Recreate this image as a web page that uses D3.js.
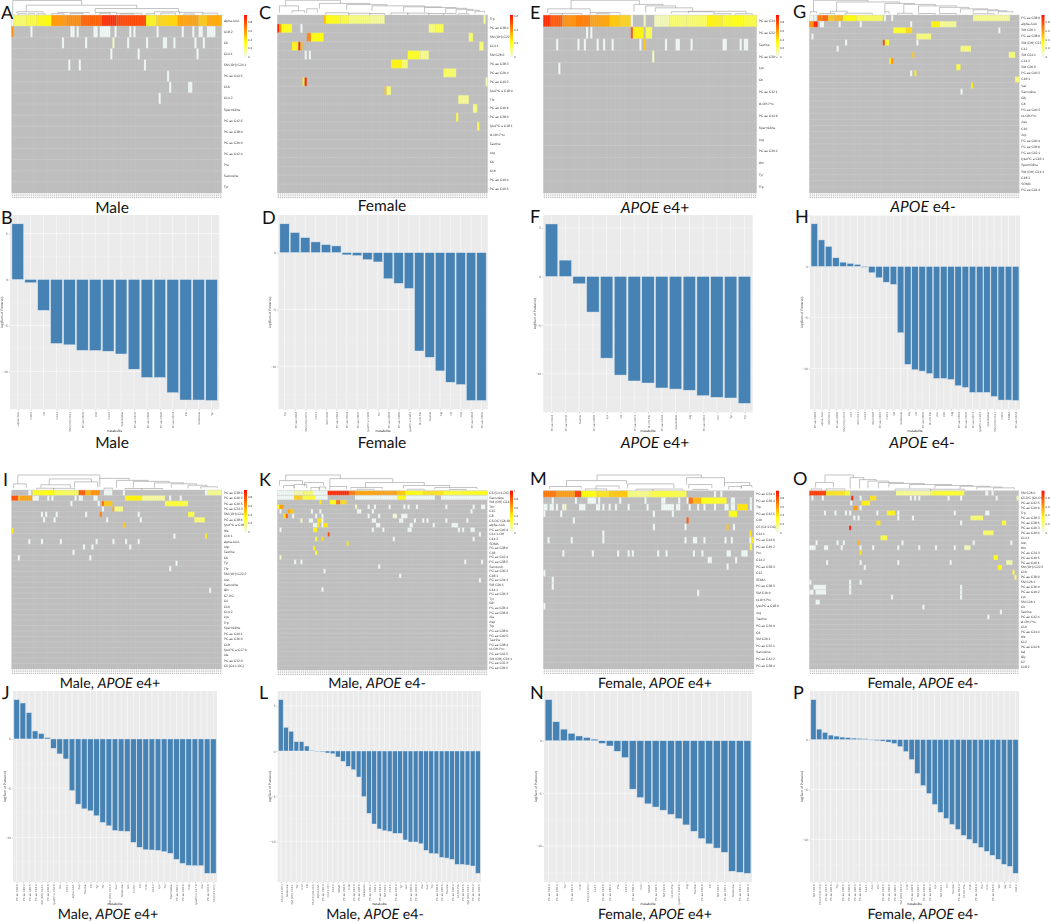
<!DOCTYPE html>
<html><head><meta charset="utf-8">
<style>html,body{margin:0;background:#fff}svg{display:block}text{text-rendering:geometricPrecision}.soft{filter:blur(.32px)}</style>
<script src="https://cdn.jsdelivr.net/npm/d3@7"></script></head><body><svg id="c" width="1050" height="922"></svg>
<script>
// Runs inside a row are [startSample, endSample, probability]; a missing end means one sample, a missing value means 0.
const maleLabels=["alpha-AAA","C18:2","C6","C14:1","SM (OH) C24:1","PC ae C44:5","C16","C14:2","Spermidine","PC ae C42:5","PC ae C38:0","PC ae C36:0","PC ae C42:4","Pro","Sarcosine","Tyr"];
const maleCells=[
[[0],[1,7,.22],[7,12,.3],[12,19,.36],[19,26,.63],[26,33,.66],[33,43,.78],[43,50,.92],[50,64,.85],[64,69,.38],[69,79,.46],[79,89,.6],[89,93,.5],[93,100,.58]],
[[0,1,.65],[9],[28,30],[31],[39,41],[42,47],[49],[56],[58],[69],[81],[86],[89,91],[93,97]],
[[24],[35],[48,49,.08],[55],[64],[72,74],[77],[87],[91]],
[[47],[60],[88]],[[27],[32],[63]],[[74]],[[75],[84,86]],[[70]]];
const maleDend=[[.6,33.4,14.5,0,9.7],[7,59.6,9.7,3,6.3],[39.8,79.4,6.3,2.3,2.7],[2.5,15,3,1.3,1.5],[22,37,2.3,1,1.2],[40,50,2.3,1.2,1.2],[50,62,1.4],[68,80,3,1,1.2],[71,78,1.6],[80,91,2.4,.8,1],[91,98,1.6],[19,25,1],[28,34,1.2],[42,47,1.4],[52,58,.9],[3,7,1],[8,11,1.1],[12,16,.9],[82,87,.8],[64,68,1]];
const maleBars=[6.05,-.35,-3.35,-6.95,-7.1,-7.7,-7.72,-7.8,-8.1,-9.75,-10.65,-10.65,-12.3,-13.1,-13.1,-13.15];

const femaleLabels=["Trp","PC ae C38:4","SM (OH) C22:2","C14:1","SM C26:0","PC ae C38:3","PC ae C36:4","PC ae C40:2","lysoPC a C18:0","Thr","PC ae C40:6","PC ae C38:0","lysoPC a C18:1","t4-OH-Pro","Taurine","Arg","C6","C16","PC ae C40:4","PC ae C40:5"];
const femaleCells=[
[[22,23,.55],[23,30,.35],[30,34,.3],[34,44,.18],[44,51,.15],[98,99,.15]],
[[0,1,.95],[1,2,.6],[2,7,.33],[11],[72,75,.2],[75,79,.25]],
[[14,16,.68],[16,22,.35],[91,93,.22]],
[[7,10,.38],[10,11,.95],[11,12,.55],[96,98,.2]],
[[13],[15],[62,68,.33],[68,72,.18]],
[[54,59,.38],[59,62,.2]],[[79,85,.22]],
[[12,13,.4],[13,14,.95],[99,100,.1]],
[[51,52,.5],[52,54,.2]],[[86,91,.17]],[[93,95,.18]],[[85,86,.3]],[[95,96,.25]]];
const femaleDend=[[4,30,14.7,9,11.5],[1,10,9,2,4],[7,13,4,1.5,2],[14,19,6,1.5,2],[20,44,11.5,6,10.3],[33,52,10.3,5,9],[45,70,9,4,8],[60,78,8,3,7.3],[70,85,7.3,2.5,6.5],[80,90,6.5,2,5.5],[85,93,5.5,2,4.5],[90,96,4.5,1.5,3.5],[94,98.5,3.5,1,2],[23,34,2],[34,44,1.5],[44,51,1.2],[54,62,1.8],[62,72,1.6],[72,79,1.2],[79,85,1.2],[86,91,1]];
const femaleBars=[2.53,1.76,1.32,.94,.7,.59,-.2,-.26,-.62,-.82,-2.3,-2.7,-3.15,-8.65,-9.2,-10.4,-11.4,-11.6,-13,-13];

const e4posLabels=["PC ae C34:4","PC ae C32:0","Taurine","PC ae C30:0","Lys","C6","PC ae C32:1","t4-OH-Pro","PC ae C44:6","Spermidine","Arg","PC ae C30:2","Orn","Tyr","Trp"];
const e4posCells=[
[[0,3.5,.92],[3.5,9,.8],[9,15,.65],[15,22,.7],[22,31,.6],[31,36,.5],[36,41,.47],[41],[47,48,.08],[52,59,.1],[59,67,.2],[67,77,.22],[77,84,.38],[84,94,.33],[94,100,.3]],
[[20],[22],[41,42,.8],[42,47,.38],[48,51,.25]],
[[6],[16],[19],[25],[28],[32],[45],[47,48,.5],[57],[62,64],[69],[84,86],[92],[94,96]],
[[51,52,.08]],[[7]]];
const e4posDend=[[13,45,14.7,6,10.5],[42.5,56,10.5,3,9],[48,62,9,2,7],[2,22,6,2,2],[22,36,2.2],[52.5,70,7,3,3.5],[60,80,3,1,1.3],[68,95,3.5,1.5,1.5],[3,9,1.2],[9,18,1.4],[25,31,1],[80,88,1],[90,98,1]];
const e4posBars=[5.4,1.68,-.75,-3.66,-8.4,-10.14,-10.75,-10.96,-11.47,-11.58,-11.7,-12.26,-12.43,-12.5,-13.05];

const e4negLabels=["PC ae C38:6","alpha-AAA","SM C26:1","PC ae C38:0","SM (OH) C22:2","C12","SM C24:1","C14:2","SM C26:0","PC ae C40:2","C16:1","Val","Sarcosine","Gly","C6","PC ae C40:5","t4-OH-Pro","Asn","C10","Arg","PC ae C40:4","PC ae C36:6","PC ae C42:1","lysoPC a C16:1","Spermidine","SM (OH) C24:1","C18:2","SDMA","PC ae C44:4"];
const e4negCells=[
[[0,2],[2.3,3.5],[4,6.5,.72],[6.5,9,.78],[9,12,.5],[12,16,.55],[16,22.5,.36],[22.5,35,.25],[35.5],[39],[78,95.5,.15]],
[[0,2,.65],[2,4,.95],[5,7],[14],[24],[48],[58,62,.38],[62,70,.15]],
[[40,46,.3],[46,49,.45],[90]],
[[1],[51,58,.2]],
[[17],[35,36,.85],[36,38,.3],[51]],
[[13],[72,77,.2]],
[[49,50,.5],[95,98,.2]],
[[38,39,.4],[39,40,.65]],
[[70,72,.3]],
[[48],[50,51,.4]],
[[98,100,.2]],[[77,78,.4]],[[72]]];
const e4negDend=[[2,28,14.7,3,13],[13,43,13,3.5,11.5],[36,50,11.5,3,10.5],[45,60,10.5,1.5,9],[52,70,9,2,7.5],[62,76,7.5,2,6],[72,85,6,2,5],[78,90,5,2,4],[85,94,4,1.5,3],[90,97,3,1,2],[.5,3.5,3,1,1.5],[10,18,3.5,1,1.5],[36,38,3,1,1],[5,12,1.2],[17,30,1.5],[42,49,1.4],[52,60,1.2],[62,70,1.2],[78,88,1]];
const e4negBars=[4.18,2.6,1.96,.85,.42,.3,.2,-.07,-.62,-1.11,-1.54,-1.76,-6.5,-9.6,-10.13,-10.26,-10.5,-10.98,-10.98,-11.08,-11.7,-11.86,-12.35,-12.35,-12.35,-12.75,-13.1,-13.1,-13.14];

const malePosLabels=["PC ae C38:0","PC ae C40:2","PC ae C40:5","PC ae C34:3","SM (OH) C14:1","PC ae C38:6","lysoPC a C18:0","His","C16:1","alpha-AAA","Asp","Taurine","C6","Tyr","Thr","SM (OH) C22:2","Asn","Sarcosine","Gln","C7-DC","C4","C16","C14:2","Lys","Trp","Spermidine","PC ae C40:1","PC ae C36:0","C18","lysoPC a C17:0","Ala","PC ae C32:0","C5 (C4:1-DC)"];
const malePosCells=[
[[8,9.4],[10,20,.35],[20,32,.25],[32,35,.8],[35,37.7,.55],[37.7,42,.65],[44,48],[53],[92],[93,100,.15]],
[[0,3.3,.82],[3.3,4,.5],[4,10,.6],[10,13],[17],[19],[30],[32,34],[39,41],[54,62,.38],[62,73,.15],[75],[80]],
[[28],[41],[43,44,.75],[44,48,.5],[73,84,.28]],
[[43],[48,49,.6],[49,53,.2]],
[[14],[16],[21],[35],[42,43,.7],[60],[84,87,.28]],
[[15],[20],[45],[61],[87,92,.22]],
[[53,54,.5]],[[0,1,.4]],[[77],[92,93,.4]],
[[8],[14],[23],[40],[48],[54],[60]],
[[34],[38],[56]],[[29]],[[3],[37]],[[78]],[[75]],[],[],[],[[94]]];
const malePosDend=[[3,42,15,6,11],[1,7,6,1.5,2],[18,38,11,5,8],[14,28,5,2,2],[30,41,8,2.5,2.5],[42,56,11.5,3,9.5],[50,65,9.5,2,8.5],[58,75,8.5,2,7],[68,82,7,2,6],[76,88,6,2,4.5],[84,93,4.5,1.5,3],[90,98,3,1,2],[12,20,1.5],[20,30,1.4],[44,48,1.6],[54,62,1.2],[62,72,1.2]];
const malePosBars=[3.99,3.65,2.67,.81,.54,.14,-.95,-1.52,-2.03,-5.24,-6.62,-7.1,-7.3,-7.8,-8.48,-8.82,-9.3,-9.36,-9.39,-10.5,-11,-11.25,-11.28,-11.32,-11.45,-11.62,-12.23,-12.64,-12.84,-12.87,-12.87,-13.65,-13.65];

const maleNegLabels=["C5 (C4:1-DC)","Sarcosine","SM (OH) C14:1","Thr","C12","C8","C5-DC (C6-OH)","alpha-AAA","PC ae C40:4","C14:1-OH","C14:2","SDMA","PC ae C38:6","C18","PC ae C42:4","PC ae C38:5","Serotonin","PC ae C30:2","C18:1","PC ae C34:3","SM C26:1","C14:1","PC ae C36:3","Tyr","Gln","PC ae C36:4","PC ae C36:0","Ala","Asp","Trp","PC ae C38:0","PC ae C40:5","Taurine","PC ae C38:4","t4-OH-Pro","PC ae C42:5","SM (OH) C24:1","PC ae C32:3","PC ae C36:5"];
const maleNegCells=[
[[0,8],[8,12.4,.12],[12.4,17,.2],[17,24],[24,34.3,.93],[34.3,37,.72],[37,57,.6],[57,61,.5],[61,69.5,.35],[69.5,79,.42],[79,88,.3],[88,100,.35]],
[[0,8],[8,12,.48],[12,18,.3],[18,24],[37,49],[49,57],[57,61,.35],[61,75],[78,100]],
[[20,21,.4],[25,28,.35],[28,30,.72],[30,33,.45]],
[[0,1,.35],[1,3,.62],[37,38,.1],[43],[46],[53],[60],[62],[66],[80],[93],[97,99]],
[[1],[5,6,.6],[6,8,.5],[16],[20],[38,40],[45],[92]],
[[3,4,.4],[4,5,.8],[7],[18],[21],[43],[48],[55,57,.05],[59,62]],
[[11,12,.08],[15,17],[19,21,.42],[21],[45],[46],[58],[59],[65],[69],[71],[80],[90]],
[[17,19],[19,20,.4],[21],[22,24,.42],[47,49],[63,64.5],[74],[83,86]],
[[1],[17,19,.38],[45],[50],[62,64],[86],[88],[92,94]],
[[24,25,.82],[96]],[[18,19,.3],[21,22,.45],[55],[93]],[[33,34,.42]],[[17,18,.4]],[[18,19,.3]],[[1,2,.08]],
[[8],[11],[89],[97]],[[48]],[[22]],[[58]],[[96]],[],[[21]]];
const maleNegDend=[[4,30,15.7,10,12],[1,12,10,5,6],[13,22,8,4,5],[3,8,5,2,2],[8,14,6,2,2.5],[25,55,12,4,8],[25,33,4,1,1.5],[42,70,8,3,5],[35,50,3,1,1.5],[60,82,5,2,3],[75,95,3,1,1.5],[38,46,1.2],[62,70,1.2],[82,90,1],[16,20,3],[20,23,3.5,1,1]];
const maleNegBars=[5.68,2.62,2.18,1.03,1.03,.55,.07,-.04,-.07,-.22,-.3,-.66,-1.14,-1.7,-2.07,-2.88,-5.05,-6.9,-8.08,-8.63,-8.82,-8.89,-9.11,-9.11,-9.85,-10.07,-10.07,-10.26,-11,-11.33,-11.37,-11.77,-11.85,-12,-12.55,-12.55,-12.62,-12.73,-13.54];

const femalePosLabels=["PC ae C34:4","PC ae C36:4","Trp","PC ae C42:5","C10","C5 (C4:1-DC)","C14:1","PC ae C44:6","PC ae C40:2","Pro","C14:2","PC ae C38:3","C12","SDMA","PC ae C38:5","SM C16:0","t4-OH-Pro","lysoPC a C18:0","Arg","Taurine","PC ae C30:0","C6","SM C26:1","PC ae C32:1","Sarcosine","PC ae C42:2","PC ae C38:4"];
const femalePosCells=[
[[0,6.3,.72],[6.3,15,.62],[15,18,.88],[18,25.3,.35],[25.3,31.3,.42],[31.3,40,.5],[40,50.6,.18],[50.6,68,.27],[81],[84]],
[[4],[15],[21,25],[26],[36],[48],[56,58],[64],[68],[69,71,.75],[71,75,.55],[75,87,.33],[89,91],[98]],
[[0,2],[3,5],[6],[9],[10,11,.1],[17,20],[25,27],[28],[31],[34],[40],[49],[56,62],[63,65],[69],[73],[76],[81],[86,88],[89,91],[92,97,.42],[98]],
[[0],[8],[52],[61],[88,92,.35]],
[[14],[68,69,.8]],
[[52],[67],[87,88,.5],[90]],
[[28],[97.8,98.8,.42]],
[[2],[13],[28],[67],[71,73],[76],[86],[89],[97.8],[99,100,.4]],
[[98,99,.3]],
[[9],[23],[35],[40],[42],[54],[58],[71],[75],[87,89],[94,97]],
[[78,80],[91]],[[87]],[[0]],[[4]],[[4]],[[73]],[],[[0]]];
const femalePosDend=[[25.5,75,15.7,10,13],[11,39.5,10,4,6.7],[3,18,4,1.5,1.5],[25,36,4.5,1.5,1.5],[40,62,6.7,2,2.5],[68,86,13,6,8],[69,80,6,2,2.5],[86,98,8,4,5],[88,94,4,1,2],[94,99,5,2,3],[20,30,1.5],[44,52,1.3],[52,66,1.4],[71,78,1]];
const femalePosBars=[3.9,1.8,1.1,.7,.45,.3,.15,-.25,-.5,-1,-1.6,-4.6,-5.4,-6,-6.3,-6.6,-7,-7.4,-8,-8.6,-9.3,-9.8,-10.2,-10.6,-12.4,-12.5,-12.6];

const femaleNegLabels=["SM C26:0","C5-DC (C6-OH)","PC ae C42:5","PC ae C40:6","Trp","PC ae C38:3","PC ae C38:5","PC ae C40:3","PC ae C40:4","C14:1","Asn","Orn","PC ae C34:3","PC ae C40:5","PC ae C40:1","SM (OH) C22:2","C16","PC ae C38:0","SM C26:1","PC ae C36:0","PC ae C40:2","Lys","SM C16:1","Cit","Taurine","PC ae C42:4","t4-OH-Pro","C10","PC ae C44:4","His","C12","PC ae C44:6","Val","Gly","C2","C18:2"];
const femaleNegCells=[
[[0,8,.88],[8,17,.42],[17,19.5,.3],[41.4,58,.15],[58,74,.3],[84,85.5],[87]],
[[1],[6],[20,21,.95],[24],[29,32,.42],[48],[50],[52],[66],[72],[89],[99,100,.1]],
[[19.5],[25,29,.38]],
[[21,23,.62],[24]],
[[7],[12],[17],[19],[32],[37,41,.38],[42],[69],[84,86]],
[[21],[23],[42],[49],[77,83,.22]],
[[32,34,.42],[72],[92,94,.3]],
[[19,20,.95]],
[[83,88,.22]],
[[34,37.2,.3]],
[[3],[13],[16],[23,24,.55],[44],[78],[96]],
[[0,3],[7,9],[15],[24],[30],[42],[52],[60],[69],[74,77,.1]],
[[24,25,.42]],
[[88,90,.35]],
[[8],[24],[42],[67],[94,97,.12]],
[[26],[90,92,.35]],
[[97,98,.3]],[[98,99,.2]],
[[0],[19],[24]],[[2,8],[19],[72]],[[0,2],[3,8],[19],[72]],[[39],[72]],[[3,5]],[[54]],[[91]],[[85]]];
const femaleNegDend=[[7.5,21,15.7,8,13],[3,11.5,8,3,3],[19.5,26,13,2,11],[24,32,11,2,9.5],[28,38,9.5,2,8],[33,45,8,2,7],[38,55,7,3,6],[48,68,6,2,5],[60,78,5,2,4.2],[72,86,4.2,1.5,3.4],[80,92,3.4,1,2.6],[88,98,2.6,1,1.6],[1,6,1.5],[8,17,1.5],[41,58,1.4],[58,74,1.2]];
const femaleNegBars=[4,1.05,.72,.45,.35,.25,.2,.15,.12,.08,-.05,-.1,-.15,-.25,-.4,-.7,-1.2,-2,-3.4,-4.6,-5.4,-6.5,-7.3,-7.9,-8.5,-9,-9.6,-10,-10.4,-10.8,-11.2,-11.6,-12,-12.5,-12.7,-13.4];

const colourbarTicks=[0,.2,.4,.6,.8];
const colourbarTicksFemale=[0,.2,.4,.6];
const colourbarTicksK=[0,.2,.4,.6,.8,1];
const barTicks=[5,0,-5,-10];

const svg=d3.select("#c");
const colour=d3.scaleLinear().domain([0,.35,1]).range(["#eff8f5","#ffff10","#ff0d00"]);
const GREY="#bdbdbd", TINY="Liberation Sans, Arial, sans-serif", BIG="Lato, 'Open Sans', sans-serif";
const defs=svg.append("defs");
const grad=defs.append("linearGradient").attr("id","cb").attr("x1",0).attr("x2",0).attr("y1",1).attr("y2",0);
d3.range(0,1.001,.05).forEach(v=>grad.append("stop").attr("offset",v).attr("stop-color",colour(v)));

function heatmap(labels,cells,dend,box,bar,ticks,cbTop){
  const [x0,x1,y0,y1]=box;
  const g=svg.append("g").attr("class","soft");
  const x=d3.scaleLinear([0,100],[x0,x1]);
  const y=d3.scaleBand(labels,[y0,y1]);
  const h=d3.scaleLinear([0,15.7],[y0-.3,y0-15.7]);
  g.append("rect").attr("x",x0).attr("y",y0).attr("width",x1-x0).attr("height",y1-y0).attr("fill",GREY);
  const runs=cells.flatMap((r,i)=>r.map(c=>({row:labels[i],s:c[0],e:c.length>1?c[1]:c[0]+1,v:c.length>2?c[2]:0})));
  g.selectAll(".cell").data(runs).join("rect").attr("x",d=>x(d.s)).attr("width",d=>x(d.e)-x(d.s))
    .attr("y",d=>y(d.row)).attr("height",y.bandwidth()).attr("fill",d=>colour(d.v));
  g.selectAll(".v").data(d3.range(0,101)).join("line").attr("x1",d=>x(d)).attr("x2",d=>x(d)).attr("y1",y0).attr("y2",y1)
    .attr("stroke","#cfcfcf").attr("stroke-width",.25).attr("stroke-opacity",.7);
  g.selectAll(".h").data(labels).join("line").attr("x1",x0).attr("x2",x1).attr("y1",d=>y(d)).attr("y2",d=>y(d))
    .attr("stroke","#cfcfcf").attr("stroke-width",.45);
  g.selectAll(".lab").data(labels).join("text").attr("x",x1+2).attr("y",d=>y(d)+y.bandwidth()/2+1)
    .text(d=>d).attr("font-family",TINY).attr("font-size",3.3).attr("fill","#444");
  // sample-ID strip: the IDs are unreadable in the reference, so each column gets a speckled mark
  g.selectAll(".id").data(d3.range(0,100)).join("line").attr("x1",d=>x(d+.5)).attr("x2",d=>x(d+.5)).attr("y1",y1+.5).attr("y2",y1+6)
    .attr("stroke","#a8a8a8").attr("stroke-width",1.3).attr("stroke-dasharray","1 .8").attr("stroke-opacity",.75);
  g.selectAll(".d").data(dend).join("path").attr("fill","none").attr("stroke","#9a9a9a").attr("stroke-width",.6)
    .attr("d",d=>d3.line()([[x(d[0]),h(d.length>3?d[3]:0)],[x(d[0]),h(d[2])],[x(d[1]),h(d[2])],[x(d[1]),h(d.length>4?d[4]:0)]]));
  g.append("rect").attr("x",bar).attr("y",y0).attr("width",3).attr("height",42).attr("fill","url(#cb)");
  const cb=d3.scaleLinear([0,cbTop],[y0+42,y0]);
  g.selectAll(".cbt").data(ticks).join("text").attr("x",bar+4).attr("y",d=>cb(d)+1).text(d=>d)
    .attr("font-family",TINY).attr("font-size",3).attr("fill","#444");
}
function bars(labels,values,box,titleY){
  const [x0,x1,y0,y1]=box;
  const g=svg.append("g").attr("class","soft");
  const x=d3.scalePoint(labels,[x0,x1]).padding(.6);
  const [lo,hi]=d3.extent(values), pad=(hi-lo)*.05;
  const y=d3.scaleLinear([lo-pad,hi+pad],[y1,y0]);
  g.append("rect").attr("x",x0).attr("y",y0).attr("width",x1-x0).attr("height",y1-y0).attr("fill","#ebebeb");
  const yt=barTicks.filter(t=>t>=lo-pad&&t<=hi+pad);
  g.selectAll(".gy").data(yt).join("line").attr("x1",x0).attr("x2",x1).attr("y1",d=>y(d)).attr("y2",d=>y(d)).attr("stroke","#fff").attr("stroke-width",.5);
  g.selectAll(".gm").data(yt.map(t=>t-2.5).filter(t=>t>=lo-pad)).join("line").attr("x1",x0).attr("x2",x1).attr("y1",d=>y(d)).attr("y2",d=>y(d)).attr("stroke","#f6f6f6").attr("stroke-width",.3);
  g.selectAll(".gx").data(labels).join("line").attr("x1",d=>x(d)).attr("x2",d=>x(d)).attr("y1",y0).attr("y2",y1).attr("stroke","#fff").attr("stroke-width",.5);
  const w=x.step()*.9;
  g.selectAll(".b").data(labels.map((l,i)=>({l,v:values[i]}))).join("rect")
    .attr("x",d=>x(d.l)-w/2).attr("width",w).attr("y",d=>y(Math.max(0,d.v))).attr("height",d=>Math.abs(y(d.v)-y(0)))
    .attr("fill","#4682b4").attr("stroke","#dce6ee").attr("stroke-width",.45);
  const ay=g.append("g").attr("transform",`translate(${x0},0)`).call(d3.axisLeft(y).tickValues(yt).tickSize(1.2).tickPadding(1).tickFormat(d3.format("d")));
  ay.select(".domain").remove();ay.selectAll("line").attr("stroke","#555").attr("stroke-width",.3);
  ay.selectAll("text").attr("font-size",3.2).attr("font-family",TINY).attr("fill","#666");
  const ax=g.append("g").attr("transform",`translate(0,${y1})`).call(d3.axisBottom(x).tickSize(1.2).tickPadding(1));
  ax.select(".domain").remove();ax.selectAll("line").attr("stroke","#555").attr("stroke-width",.3);
  ax.selectAll("text").attr("font-size",2.9).attr("font-family",TINY).attr("fill","#666")
    .attr("text-anchor","end").attr("dx",-2.5).attr("dy",-1).attr("transform","rotate(-90)");
  g.append("text").attr("x",(x0+x1)/2).attr("y",titleY).attr("text-anchor","middle").text("metabolite").attr("font-size",3.3).attr("font-family",TINY).attr("fill","#333");
  g.append("text").attr("transform",`translate(${x0-7},${(y0+y1)/2}) rotate(-90)`).attr("text-anchor","middle").text("log(Sum of Posterior)").attr("font-size",3.3).attr("font-family",TINY).attr("fill","#333");
}
function title(parts,cx,cy,size){
  const t=svg.append("text").attr("x",cx).attr("y",cy).attr("text-anchor","middle").attr("font-family",BIG).attr("font-size",size).attr("fill","#111");
  parts.forEach(p=>t.append("tspan").attr("font-style",p[1]?"italic":"normal").text(p[0]));
}
const heatBoxes=[[11.5,221.7,15,193],[277.3,487.7,15,193],[543.3,756.7,15,193],[809.3,1019.3,15,193],[11.5,221.7,490,669],[277.3,487.3,490.7,670],[543.3,754,490.7,669],[809.3,1018.7,490.7,669]];
const barBoxes=[[10,219.3,215,409.3],[278.3,487.7,215,409.3],[543.3,752.7,215,412.3],[810,1020,215,409.3],[13,217,691,882],[277.7,481,691,882],[544,752,691,882],[810,1019,691,882]];
const axisTitleY=[432,432,432,432,905,905,905,905];
const barX=[244,510,776,1041.5,244,510,776,1041.5];
const sets=[[maleLabels,maleCells,maleDend,maleBars],[femaleLabels,femaleCells,femaleDend,femaleBars],[e4posLabels,e4posCells,e4posDend,e4posBars],[e4negLabels,e4negCells,e4negDend,e4negBars],[malePosLabels,malePosCells,malePosDend,malePosBars],[maleNegLabels,maleNegCells,maleNegDend,maleNegBars],[femalePosLabels,femalePosCells,femalePosDend,femalePosBars],[femaleNegLabels,femaleNegCells,femaleNegDend,femaleNegBars]];
sets.forEach((s,i)=>{
  const tk=i===5?colourbarTicksK:i===1?colourbarTicksFemale:colourbarTicks;
  heatmap(s[0],s[1],s[2],heatBoxes[i],barX[i],tk,i===5?1:i===1?.62:.97);
  bars(s[0],s[3],barBoxes[i],axisTitleY[i]);
});

const apo="APOE";
[[[["Male"]],112,112,213],[[["Female"]],382,382,211],[[[apo,1],[" e4+"]],655,655,213],[[[apo,1],[" e4-"]],923,922,212]].forEach(d=>{title(d[0],d[1],d[3],15.5);title(d[0],d[2],448,15.5);});
[[[["Male, "],[apo,1],[" e4+"]],110,108],[[["Male, "],[apo,1],[" e4-"]],377,375],[[["Female, "],[apo,1],[" e4+"]],655,655],[[["Female, "],[apo,1],[" e4-"]],923,923]].forEach(d=>{title(d[0],d[1],688,14.2);title(d[0],d[2],919,14.2);});
const letters=[["A",1,19],["C",259,19],["E",530,19],["G",793,18],["B",1,224],["D",262,224],["F",530,223],["H",795,223],["I",3,486],["K",259,486],["M",530,485],["O",793,485],["J",2,699],["L",259,699],["N",530,699],["P",793,699]];
svg.selectAll(".letter").data(letters).join("text").attr("x",d=>d[1]).attr("y",d=>d[2]).text(d=>d[0]).attr("font-family",BIG).attr("font-size",18).attr("fill","#111");
</script></body></html>
